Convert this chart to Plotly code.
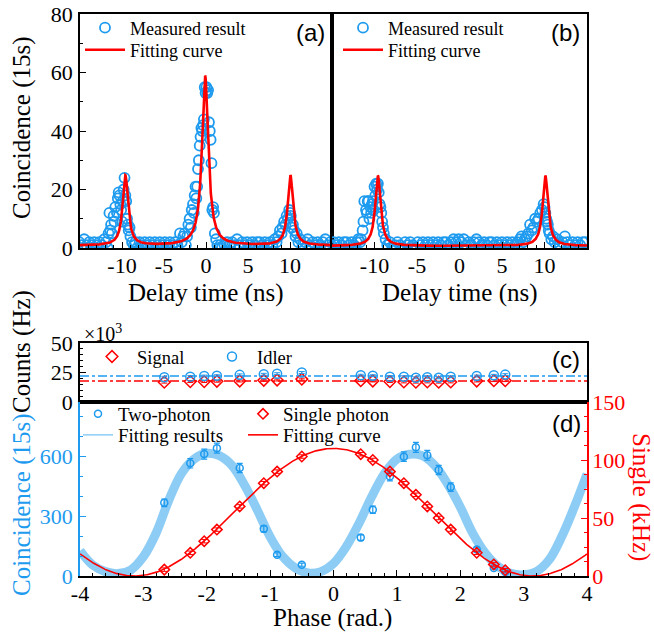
import numpy as np
import plotly.graph_objects as go

W, H = 654, 633
SERIF = "Liberation Serif"
SANS = "Liberation Sans"
BLUE = "#1e9bef"
BAND = "#8dcdf5"
RED = "#ff0000"

# ---------------- Panel (a): measured coincidences ----------------
delay_a = [-15.1, -14.8, -14.5, -14.2, -13.9, -13.6, -13.3, -13.0, -12.7, -12.4, -12.1, -11.9,
           -11.7, -11.6, -11.5, -11.4, -11.3, -11.2, -11.0, -10.9, -10.8, -10.6, -10.5, -10.4,
           -10.3, -10.2, -10.1, -10.0, -9.9, -9.8, -9.7, -9.6, -9.5, -9.4, -9.3, -9.2, -9.1,
           -9.0, -8.8, -8.6, -8.4, -8.2, -7.9, -7.6, -7.3, -7.0, -6.7, -6.4, -6.1, -5.8, -5.5,
           -5.2, -4.9, -4.6, -4.3, -4.0, -3.7, -3.4, -3.1, -2.9, -2.7, -2.55, -2.4, -2.25, -2.1,
           -1.95, -1.8, -1.7, -1.55, -1.45, -1.35, -1.25, -1.15, -1.05, -0.95, -0.85, -0.75,
           -0.65, -0.55, -0.45, -0.35, -0.25, -0.15, -0.05, 0.05, 0.15, 0.25, 0.35, 0.45, 0.55,
           0.65, 0.75, 0.85, 0.95, 1.05, 1.2, 1.35, 1.5, 1.7, 1.9, 2.2, 2.5, 2.8, 3.1, 3.4, 3.7,
           4.0, 4.3, 4.6, 4.9, 5.2, 5.5, 5.8, 6.1, 6.4, 6.7, 7.0, 7.3, 7.6, 7.9, 8.2, 8.4, 8.6,
           8.8, 9.0, 9.1, 9.3, 9.45, 9.6, 9.75, 9.9, 10.0, 10.1, 10.2, 10.35, 10.5, 10.65, 10.8,
           11.0, 11.2, 11.5, 11.8, 12.1, 12.4, 12.7, 13.0, 13.3, 13.6, 13.9, 14.2, 14.5, 14.8]
coinc_a = [2, 1, 3, 1, 2, 1, 2, 1, 2, 1, 3, 2,
           0, 5, 12, 6, 8, 5, 11, 9, 14, 12, 17, 19,
           18, 15, 13, 9, 16, 20, 24, 18, 16, 10, 8, 6, 7,
           4, 2, 1, 2, 0, 2, 1, 2, 1, 2, 1, 2, 1, 2,
           1, 2, 1, 2, 1, 2, 1, 5, 2, 4, 5, 1, 4, 8,
           10, 7, 13, 15, 12, 18, 21, 17, 21, 27, 30, 35,
           38, 41, 40, 42, 44, 55, 53, 55, 53, 54, 43, 40, 37,
           29, 13, 14, 12, 5, 3, 1, 0, 1, 0, 1, 2, 1, 2, 1, 3,
           1, 2, 1, 2, 1, 2, 1, 2, 2, 1, 2, 1, 2, 1, 3, 2, 4,
           6, 5, 7, 9, 8, 11, 10, 13, 12, 11, 7, 8, 6, 4, 5,
           2, 3, 1, 2, 3, 1, 2, 1, 2, 1, 2, 3, 1, 2]

# ---------------- Panel (b): measured coincidences ----------------
delay_b = [-15.1, -14.8, -14.5, -14.2, -13.9, -13.6, -13.3, -13.0, -12.7, -12.4, -12.1, -11.9,
           -11.7, -11.6, -11.4, -11.3, -11.2, -11.0, -10.9, -10.8, -10.7, -10.6, -10.5, -10.4,
           -10.3, -10.2, -10.1, -10.0, -9.9, -9.8, -9.7, -9.6, -9.5, -9.4, -9.3, -9.2, -9.1,
           -9.0, -8.9, -8.7, -8.5, -8.2, -7.9, -7.6, -7.3, -7.0, -6.7, -6.4, -6.1, -5.8, -5.5,
           -5.2, -4.9, -4.6, -4.3, -4.0, -3.7, -3.4, -3.1, -2.8, -2.5, -2.2, -1.9, -1.6, -1.3,
           -1.0, -0.7, -0.4, -0.1, 0.2, 0.5, 0.8, 1.1, 1.4, 1.7, 2.0, 2.3, 2.6, 2.9, 3.2, 3.5,
           3.8, 4.1, 4.4, 4.7, 5.0, 5.3, 5.6, 5.9, 6.2, 6.5, 6.8, 7.1, 7.3, 7.5, 7.7, 7.9, 8.1,
           8.3, 8.5, 8.7, 8.9, 9.1, 9.3, 9.5, 9.7, 9.9, 10.0, 10.1, 10.2, 10.3, 10.4, 10.5,
           10.6, 10.8, 11.0, 11.2, 11.5, 11.8, 12.1, 12.4, 12.7, 13.0, 13.3, 13.6, 13.9, 14.2,
           14.5, 14.8]
coinc_b = [1, 2, 1, 2, 1, 2, 2, 1, 2, 1, 2, 3,
           2, 3, 6, 9, 16, 13, 12, 16, 16, 10, 14, 12,
           15, 16, 13, 21, 18, 22, 20, 22, 19, 15, 14, 12, 9,
           7, 5, 3, 1, 2, 0, 1, 2, 1, 0, 2, 1, 2, 1,
           0, 2, 1, 2, 1, 2, 1, 2, 1, 2, 1, 2, 2, 1,
           2, 3, 2, 3, 2, 3, 1, 2, 1, 2, 3, 2, 1, 2, 1, 2,
           2, 1, 2, 1, 2, 1, 2, 1, 2, 1, 2, 3, 4, 2, 3, 4, 5,
           8, 6, 7, 10, 9, 10, 12, 13, 15, 14, 12, 10, 9, 8, 6,
           5, 3, 4, 2, 3, 1, 2, 4, 2, 1, 2, 1, 2, 1,
           2, 2]

# Lorentzian fit parameters: (centre, amplitude, half width)
fit_a_base = 0.8
fit_a_peaks = [(-9.6, 24.0, 0.38), (-0.1, 58.0, 0.45), (10.05, 24.0, 0.38)]
fit_b_base = 0.7
fit_b_peaks = [(-9.6, 24.0, 0.38), (10.1, 24.0, 0.38)]

# ---------------- Panel (c): single counts (x10^3 Hz) ----------------
phase = [-2.67, -2.26, -2.04, -1.84, -1.48, -1.10, -0.89, -0.50, 0.43, 0.62,
         0.89, 1.11, 1.30, 1.48, 1.66, 1.85, 2.26, 2.53, 2.71]
signal_k = [16.8, 17.3, 17.3, 17.6, 17.8, 18.4, 18.6, 19.4, 18.1, 17.8,
            17.3, 17.0, 16.8, 17.0, 16.8, 17.0, 17.8, 18.1, 18.1]
idler_k = [21.0, 21.5, 22.0, 22.3, 23.0, 23.5, 24.0, 25.0, 22.7, 22.3,
           21.4, 21.4, 20.5, 21.0, 20.5, 21.4, 22.0, 22.6, 23.2]
signal_err = [0.8] * 19
idler_err = [0.8] * 19
signal_mean = 17.7
idler_mean = 22.0

# ---------------- Panel (d) ----------------
two_photon = [368, 567, 613, 643, 543, 237, 107, 57, 193, 333,
              500, 600, 647, 607, 533, 447, 133, 40, 20]
two_photon_err = [19, 24, 25, 25, 23, 15, 10, 8, 14, 18,
                  22, 24, 25, 25, 23, 21, 12, 6, 4]
single_khz = [5.5, 20, 30, 40, 60, 80, 90, 103, 105, 100,
              90, 80, 70, 60, 50, 40, 20, 10, 5]
single_err = [1.5] * 19
# two-photon fitting band, centre line
band_x = [-4.0, -3.8, -3.6, -3.4, -3.2, -3.0, -2.8, -2.6, -2.4, -2.2, -2.0, -1.8, -1.6,
          -1.4, -1.2, -1.0, -0.8, -0.6, -0.4, -0.2, 0.0, 0.2, 0.4, 0.6, 0.8, 1.0, 1.2,
          1.4, 1.6, 1.8, 2.0, 2.2, 2.4, 2.6, 2.8, 3.0, 3.2, 3.4, 3.6, 3.8, 4.0]
band_y = [127, 55, 22, 12, 30, 97, 215, 380, 515, 588, 617, 605, 555,
          455, 330, 197, 97, 40, 15, 22, 63, 147, 263, 397, 513, 588, 612,
          605, 555, 463, 347, 213, 113, 47, 13, 6, 22, 80, 197, 347, 513]
# single-photon cosine fit: offset + amp*cos(phase)
single_fit_offset = 55.0
single_fit_amp = 55.0


def lorentz(x, base, peaks):
    y = np.full_like(x, base, dtype=float)
    for c, a, g in peaks:
        y = y + a / (1 + ((x - c) / g) ** 2)
    return y


t_fit = np.linspace(-15, 15, 3001)
ph_fit = np.linspace(-4, 4, 801)


def fx(p):
    return p / W


def fy(p):
    return 1 - p / H


# pixel layout of plot areas
L, M, R = 80, 332, 587
A_TOP, A_BOT = 14, 248
C_TOP, C_BOT = 343, 402
D_BOT = 576

fig = go.Figure()

circ = dict(symbol="circle-open", size=10, color=BLUE, line=dict(width=1.8, color=BLUE))

# (a)
fig.add_trace(go.Scatter(x=delay_a, y=coinc_a, mode="markers", marker=circ,
                         name="Measured result", legend="legend", xaxis="x", yaxis="y"))
fig.add_trace(go.Scatter(x=t_fit, y=lorentz(t_fit, fit_a_base, fit_a_peaks), mode="lines",
                         line=dict(color=RED, width=2.6), name="Fitting curve",
                         legend="legend2", xaxis="x", yaxis="y"))
# (b)
fig.add_trace(go.Scatter(x=delay_b, y=coinc_b, mode="markers", marker=circ,
                         name="Measured result", legend="legend3", xaxis="x2", yaxis="y2"))
fig.add_trace(go.Scatter(x=t_fit, y=lorentz(t_fit, fit_b_base, fit_b_peaks), mode="lines",
                         line=dict(color=RED, width=2.6), name="Fitting curve",
                         legend="legend4", xaxis="x2", yaxis="y2"))
# (c)
fig.add_trace(go.Scatter(x=[-4, 4], y=[idler_mean, idler_mean], mode="lines",
                         line=dict(color=BLUE, width=1.5, dash="dashdot"), showlegend=False,
                         xaxis="x3", yaxis="y3"))
fig.add_trace(go.Scatter(x=[-4, 4], y=[signal_mean, signal_mean], mode="lines",
                         line=dict(color=RED, width=1.5, dash="dashdot"), showlegend=False,
                         xaxis="x3", yaxis="y3"))
fig.add_trace(go.Scatter(x=phase, y=signal_k, mode="markers", name="Signal", legend="legend5",
                         marker=dict(symbol="diamond-open", size=9, color=RED,
                                     line=dict(width=1.5, color=RED)),
                         error_y=dict(type="data", array=signal_err, color=RED, thickness=1, width=3),
                         xaxis="x3", yaxis="y3"))
fig.add_trace(go.Scatter(x=phase, y=idler_k, mode="markers", name="Idler", legend="legend6",
                         marker=dict(symbol="circle-open", size=9, color=BLUE,
                                     line=dict(width=1.5, color=BLUE)),
                         error_y=dict(type="data", array=idler_err, color=BLUE, thickness=1, width=3),
                         xaxis="x3", yaxis="y3"))
# (d)
fig.add_trace(go.Scatter(x=band_x, y=band_y, mode="lines",
                         line=dict(color=BAND, width=9, shape="spline", smoothing=1.0),
                         showlegend=False, xaxis="x4", yaxis="y4"))
fig.add_trace(go.Scatter(x=[None], y=[None], mode="lines", line=dict(color=BAND, width=1.5),
                         name="Fitting results", legend="legend8", xaxis="x4", yaxis="y4"))
fig.add_trace(go.Scatter(x=phase, y=two_photon, mode="markers", name="Two-photon", legend="legend7",
                         marker=dict(symbol="circle-open", size=7, color=BLUE,
                                     line=dict(width=1.5, color=BLUE)),
                         error_y=dict(type="data", array=two_photon_err, color=BLUE,
                                      thickness=1.2, width=3),
                         xaxis="x4", yaxis="y4"))
fig.add_trace(go.Scatter(x=ph_fit, y=single_fit_offset + single_fit_amp * np.cos(ph_fit),
                         mode="lines", line=dict(color=RED, width=1.6), name="Fitting curve",
                         legend="legend10", xaxis="x4", yaxis="y5"))
fig.add_trace(go.Scatter(x=phase, y=single_khz, mode="markers", name="Single photon",
                         legend="legend9",
                         marker=dict(symbol="diamond-open", size=8, color=RED,
                                     line=dict(width=1.5, color=RED)),
                         error_y=dict(type="data", array=single_err, color=RED, thickness=1, width=3),
                         xaxis="x4", yaxis="y5"))

tickfont = dict(family=SERIF, size=22, color="black")
common = dict(showgrid=False, zeroline=False, linecolor="black", linewidth=1.5,
              ticks="inside", ticklen=6, tickwidth=1.3, tickcolor="black",
              tickfont=tickfont, automargin=False)

XSTAND = -3
YSTAND = 1
RSTAND = -1

xa = dict(common, domain=[fx(L), fx(M)], anchor="y", range=[-15, 15], mirror=True,
          tickmode="array", tickvals=[-10, -5, 0, 5, 10], ticktext=["-10", "-5", "0", "5", "10"],
          minor=dict(ticks="inside", ticklen=3, tickwidth=1, tickcolor="black", dtick=1, tick0=0),
          ticklabelstandoff=XSTAND)
ya = dict(common, domain=[fy(A_BOT), fy(A_TOP)], anchor="x", range=[0, 80], mirror=True,
          tickmode="array", tickvals=[0, 20, 40, 60, 80],
          minor=dict(ticks="inside", ticklen=3, tickwidth=1, tickcolor="black", dtick=10, tick0=0),
          ticklabelstandoff=YSTAND)
xb = dict(xa, domain=[fx(M), fx(R)], anchor="y2")
yb = dict(common, domain=[fy(A_BOT), fy(A_TOP)], anchor="x2", range=[0, 80], mirror=True,
          ticks="", showticklabels=False)
xc = dict(common, domain=[fx(L), fx(R)], anchor="y3", range=[-4, 4], mirror=True,
          ticks="", showticklabels=False)
yc = dict(common, domain=[fy(C_BOT), fy(C_TOP)], anchor="x3", range=[0, 50], mirror=True,
          tickmode="array", tickvals=[0, 25, 50],
          minor=dict(ticks="inside", ticklen=3, tickwidth=1, tickcolor="black", dtick=5, tick0=0),
          ticklabelstandoff=YSTAND)
xd = dict(common, domain=[fx(L), fx(R)], anchor="y4", range=[-4, 4], mirror=True,
          tickmode="array", tickvals=[-4, -3, -2, -1, 0, 1, 2, 3, 4],
          ticktext=["-4", "-3", "-2", "-1", "0", "1", "2", "3", "4"],
          minor=dict(ticks="inside", ticklen=3, tickwidth=1, tickcolor="black", dtick=0.2, tick0=0),
          ticklabelstandoff=XSTAND)
yd = dict(common, domain=[fy(D_BOT), fy(C_BOT)], anchor="x4", range=[0, 875],
          linecolor=BLUE, tickcolor=BLUE, tickfont=dict(family=SERIF, size=22, color=BLUE),
          tickmode="array", tickvals=[0, 300, 600],
          minor=dict(ticks="inside", ticklen=3, tickwidth=1, tickcolor=BLUE, dtick=100, tick0=0),
          ticklabelstandoff=YSTAND)
ye = dict(common, overlaying="y4", side="right", anchor="x4", range=[0, 150],
          linecolor=RED, tickcolor=RED, tickfont=dict(family=SERIF, size=22, color=RED),
          tickmode="array", tickvals=[0, 50, 100, 150],
          minor=dict(ticks="inside", ticklen=3, tickwidth=1, tickcolor=RED, dtick=12.5, tick0=0),
          ticklabelstandoff=RSTAND)


def leg(left, yc_px, size=18, itemwidth=30):
    return dict(x=fx(left), xanchor="left", y=fy(yc_px), yanchor="middle",
                bgcolor="rgba(0,0,0,0)", borderwidth=0, itemwidth=itemwidth,
                font=dict(family=SERIF, size=size, color="black"))


def ann(text, x, y, size=25, color="black", family=SERIF, angle=0):
    return dict(text=text, x=fx(x), y=fy(y), xref="paper", yref="paper", showarrow=False,
                xanchor="center", yanchor="middle", textangle=angle,
                font=dict(family=family, size=size, color=color))


annotations = [
    ann("(a)", 310, 33, size=24, family=SANS),
    ann("(b)", 565, 33, size=24, family=SANS),
    ann("(c)", 566, 359, size=24, family=SANS),
    ann("(d)", 566, 423, size=24, family=SANS),
    ann("Coincidence (15s)", 22, 128, angle=-90),
    ann("Delay time (ns)", 206, 293),
    ann("Delay time (ns)", 460, 293),
    ann("Counts (Hz)", 22, 352, angle=-90),
    ann("Coincidence (15s)", 22, 505, color=BLUE, angle=-90),
    ann("Single (kHz)", 641, 497, color=RED, angle=90),
    ann("Phase (rad.)", 333, 618),
    dict(text="×10<sup>3</sup>", x=fx(82), y=fy(333), xref="paper", yref="paper",
         showarrow=False, xanchor="left", yanchor="middle",
         font=dict(family=SERIF, size=20, color="black")),
]

fig.update_layout(
    width=W, height=H, margin=dict(l=0, r=0, t=0, b=0),
    paper_bgcolor="white", plot_bgcolor="white",
    xaxis=xa, yaxis=ya, xaxis2=xb, yaxis2=yb, xaxis3=xc, yaxis3=yc,
    xaxis4=xd, yaxis4=yd, yaxis5=ye,
    legend=leg(80, 28, itemwidth=40), legend2=leg(80, 50, itemwidth=40),
    legend3=leg(338, 28, itemwidth=40), legend4=leg(338, 50, itemwidth=40),
    legend5=leg(87, 357, size=18.5, itemwidth=40), legend6=leg(207, 357, size=18.5, itemwidth=40),
    legend7=leg(78, 414, size=19), legend8=leg(78, 435, size=19),
    legend9=leg(243, 414, size=19), legend10=leg(243, 435, size=19),
    annotations=annotations,
    showlegend=True,
)

fig.write_html("out.html", config={"displayModeBar": False},
               post_script="document.body.style.margin='0';document.body.style.overflow='hidden';")
